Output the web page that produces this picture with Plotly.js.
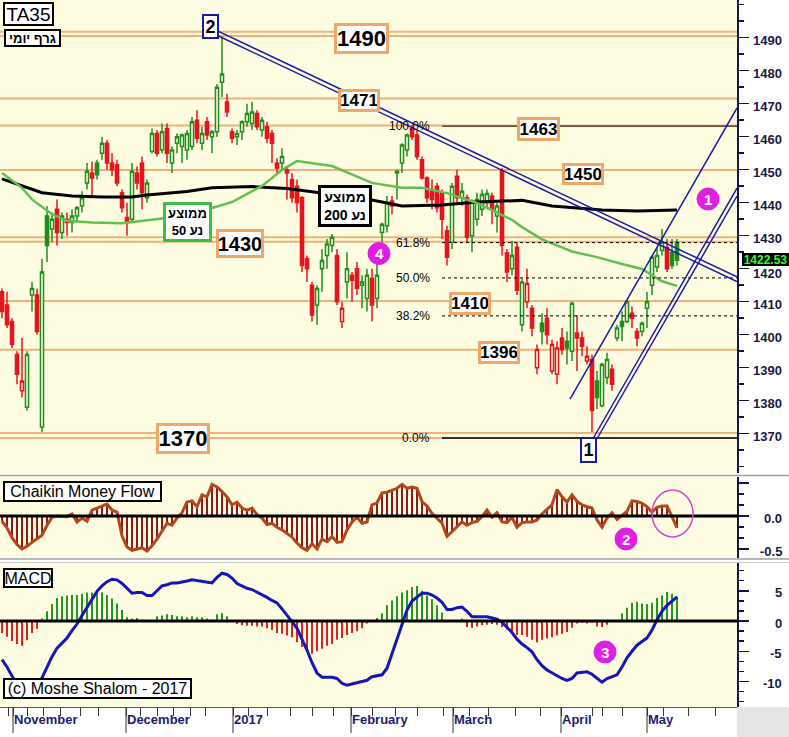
<!DOCTYPE html>
<html><head><meta charset="utf-8">
<script src="https://cdn.plot.ly/plotly-3.0.1.min.js"></script>
<style>html,body{margin:0;padding:0;background:#fff;} #chart{width:789px;height:737px;}</style>
</head><body><div id="chart"></div>
<script>
// ---------- DATA ----------
const openP = [1413,1409,1404,1394,1383,1378,1412,1412,1372,1436,
 1432,1438,1431,1434,1434,1436,1439,1446,1449,1452,
 1455,1458,1452,1451.5,1443,1435.5,1435,1449,1452,1441.5,
 1455.5,1461,1456,1462.5,1452,1458,1457,1456,1457,1465,
 1458,1464.5,1460,1461.5,1476.5,1470.5,1461.5,1460,1461.5,1464.5,
 1464,1467,1462,1463,1461,1452,1452,1450,1447,1445,
 1441.5,1423,1415,1409,1420,1424,1427,1424,1404,1416,
 1418,1420,1415,1411,1417,1411,1431,1433,1440.5,1449,
 1452,1456,1462.5,1460.5,1453,1447.5,1444,1445,1443,1431.5,
 1428,1448,1441.5,1441.5,1430,1435,1438,1440,1442,1436,
 1449.7,1424.8,1420,1426.5,1403,1410,1408,1390,1403.5,1405,
 1389,1388,1399,1398,1395,1400.5,1399,1392,1392.5,1386,
 1378.5,1387,1389.5,1399,1404,1404,1406.5,1401,1401,1408,
 1415,1420.5,1425.5,1426.5,1425,1428];
const highP = [1414,1413,1405,1395,1399,1395,1416,1414,1423,1439,
 1437,1441,1437,1437,1438,1439,1443.5,1452,1452.5,1453,
 1460,1459,1455,1453,1444,1440,1452,1451,1454,1447,
 1462.5,1462,1464,1464,1457,1461,1461,1462,1466,1468,
 1463,1466,1462,1476,1490,1473,1462.5,1462,1465,1470,
 1470.5,1468,1466,1464.5,1462,1453.5,1456.5,1451,1449,1447,
 1442,1424,1416,1415,1426,1429,1430.5,1426,1410,1425,
 1419,1422,1418,1420,1420,1422.5,1434,1442,1442,1450,
 1458,1461,1463.5,1462,1454,1448,1447,1446,1444,1433,
 1446,1450,1446,1442.5,1441,1443,1444,1444,1443,1440,
 1450.5,1426,1428.5,1428,1417,1420,1409,1397,1406.5,1408,
 1398.5,1398,1402,1401,1410,1406,1401,1396.5,1394,1389,
 1391.5,1394.5,1391,1403,1407,1410.5,1408.5,1402,1404,1413,
 1424,1426.5,1432,1429,1429,1429];
const lowP = [1405,1402,1396,1385,1381,1377,1407,1400,1370.5,1422,
 1428,1427,1429,1430,1431,1434,1437,1444,1441.5,1447,
 1453,1450,1448,1445,1437,1430,1434,1444,1438,1440,
 1455,1454,1455,1452,1449,1455,1452,1453,1456,1458,
 1456,1459,1455,1460,1472,1466,1458,1457.5,1459,1463,
 1462,1462,1460,1458,1452,1449,1450,1441,1440,1437,
 1419,1416,1404,1403,1413,1420,1425,1409,1402,1411,
 1410,1412,1408,1407,1404,1408,1428,1431,1436.5,1441,
 1449,1454,1459,1453,1447,1440,1438,1437,1429,1421,
 1426,1440,1439,1428,1425,1433,1436,1438,1433.5,1431,
 1424,1416,1418,1412,1401,1408,1399.5,1388,1397,1397,
 1388,1385,1394,1391,1392,1389,1393.5,1391,1370.5,1377.5,
 1378,1385,1383,1398,1398,1403.5,1402,1396.5,1399.5,1402,
 1412,1419,1424,1419,1420,1421];
const closeP = [1407,1403,1397,1388,1386,1394,1414,1401,1419,1427,
 1435,1431,1436,1435,1436,1438.5,1441.5,1449.5,1447.5,1448.5,
 1458,1452,1450,1446,1438.5,1434,1449.5,1446,1443,1446,
 1461,1455,1461.5,1455,1456,1460,1460.5,1461,1464.5,1459.5,
 1461,1460.5,1461.5,1475,1479,1467.5,1459.5,1461,1464.5,1467,
 1467.5,1463,1465,1459.5,1458,1450.5,1454,1449,1441.5,1440,
 1421,1420,1406,1414,1422.5,1427.5,1429.5,1410,1408,1420,
 1416.5,1414,1416,1418,1409,1418,1433.5,1440,1439,1449.5,
 1457.5,1460.5,1460,1454,1447.5,1441.5,1441,1438.5,1435,1423.5,
 1445,1441.5,1443.5,1429.5,1440.5,1441,1442.5,1442.8,1438,1439,
 1427,1419,1424,1413.5,1416,1415.5,1402,1395.5,1401,1400,
 1397,1396,1395.5,1396,1409.5,1399,1396.5,1393.5,1377,1381,
 1391,1392.5,1385,1402,1402.5,1410,1405,1399,1403.5,1410,
 1423.5,1424,1428,1420,1421,1422.53];

const ma200X = [0,4,8,14,20,26,29,37,42,50,57,62,68,74,80,88,95,104,110,120,127,135];
const ma200Y = [1447.2,1445.1,1443.0,1442.0,1441.7,1441.7,1442.3,1443.4,1444.5,1444.9,1444.3,1443.3,1442.0,1440.8,1439.0,1439.3,1440.2,1440.7,1439.0,1437.8,1437.5,1437.8];
const ma50X = [0,4,6,10,13,18,24,27,32,42,46,52,56,59,66,74,80,84,89,95,102,104,108,114,119,124,128,132,135];
const ma50Y = [1449.0,1444.5,1441.0,1436.5,1434.5,1434.0,1433.8,1434.3,1435.2,1438.4,1440.2,1445.1,1449.9,1452.6,1451.1,1446.0,1444.5,1444.5,1442.9,1439.9,1434.8,1432.6,1428.9,1425.2,1423.5,1421.4,1419.9,1416.2,1414.8];

const cmf = [-0.08,-0.18,-0.33,-0.43,-0.5,-0.46,-0.4,-0.34,-0.29,-0.14,
 -0.02,0.0,0.0,-0.01,0.03,-0.09,-0.03,-0.08,0.09,0.12,
 0.15,0.18,0.09,0.06,-0.3,-0.47,-0.52,-0.5,-0.48,-0.53,
 -0.45,-0.35,-0.22,-0.11,-0.14,-0.03,0.05,0.21,0.23,0.14,
 0.32,0.29,0.48,0.44,0.37,0.29,0.17,0.21,0.12,0.09,
 0.12,0.02,-0.03,-0.13,-0.11,-0.17,-0.21,-0.26,-0.32,-0.41,
 -0.48,-0.52,-0.42,-0.5,-0.35,-0.39,-0.31,-0.4,-0.39,-0.21,
 -0.09,-0.02,-0.11,-0.09,0.17,0.2,0.35,0.36,0.39,0.42,
 0.48,0.42,0.44,0.42,0.22,0.15,0.04,-0.03,-0.11,-0.31,
 -0.24,-0.16,-0.09,-0.14,-0.1,-0.08,-0.01,0.09,-0.02,0.05,
 -0.09,-0.1,-0.02,-0.17,-0.1,-0.09,-0.09,-0.06,0.03,0.1,
 0.17,0.4,0.29,0.21,0.32,0.22,0.17,0.14,0.12,-0.06,
 -0.17,-0.03,0.05,-0.05,0.01,0.07,0.23,0.22,0.19,0.14,
 0.06,0.13,0.15,0.15,-0.01,-0.18];

const macdHist = [-2.0,-2.6,-3.3,-3.8,-4.1,-3.2,-2.0,-1.3,0.4,1.6,
 2.8,3.8,4.1,4.2,4.3,4.3,4.5,4.7,4.7,4.8,
 4.7,4.3,3.7,2.9,1.8,0.6,0.4,0.5,0.2,0.05,
 0.1,0.8,0.9,1.1,1.0,0.8,0.8,0.6,0.8,0.6,
 0.6,0.4,0.2,1.1,1.3,0.8,0.05,-0.5,-0.7,-0.8,
 -0.8,-0.9,-0.9,-1.2,-1.5,-2.0,-2.1,-2.4,-2.7,-3.5,
 -4.3,-5.1,-5.4,-5.0,-4.6,-4.1,-3.8,-3.1,-2.8,-2.3,
 -2.0,-1.7,-1.2,-0.4,-0.1,0.5,1.3,2.6,3.4,4.1,
 4.7,5.1,5.6,5.8,5.0,4.2,3.6,2.6,1.4,-0.2,
 0,0.1,0.4,-1.0,-1.1,-0.9,-0.7,-0.6,-0.5,-0.6,
 -1.0,-1.4,-2.0,-2.3,-2.3,-2.6,-3.1,-3.5,-3.1,-2.9,
 -2.7,-2.4,-2.1,-1.8,-1.1,-0.4,-0.3,-0.4,-0.3,-0.9,
 -1.0,-0.6,0,0,1.3,2.2,3.0,3.2,2.9,2.8,
 3.0,3.8,4.2,4.8,4.5,4.0];

const macdLine = [-6.4,-7.6,-9.1,-10.3,-11.2,-11.7,-11.6,-10.8,-9.4,-7.6,
 -5.9,-4.5,-3.6,-2.8,-1.6,-0.5,0.9,2.3,3.6,4.9,
 5.8,6.5,6.9,6.8,6.2,5.4,4.6,4.7,4.7,4.2,
 4.2,5.0,5.8,6.0,6.3,6.3,6.4,6.6,6.8,6.7,
 6.6,6.5,6.3,7.2,7.9,7.7,7.1,6.2,5.8,5.4,
 5.2,4.8,4.4,3.9,3.4,3.0,2.0,1.0,-0.1,-1.2,
 -3.0,-4.8,-6.9,-8.6,-9.3,-9.3,-9.3,-9.5,-10.3,-10.6,
 -10.4,-10.1,-9.9,-9.8,-9.2,-9.1,-8.9,-7.8,-5.4,-3.0,
 -0.5,1.8,3.3,4.0,4.6,4.6,4.3,3.8,3.1,1.9,
 1.9,2.2,2.3,1.6,0.7,0.7,0.7,0.7,0.5,0.3,
 -0.2,-1.0,-1.9,-3.0,-3.8,-4.4,-5.1,-6.4,-7.4,-8.1,
 -8.6,-9.1,-9.5,-9.8,-9.5,-8.6,-8.5,-8.4,-8.8,-9.5,
 -10.1,-9.5,-9.2,-8.9,-7.6,-6.1,-5.0,-4.0,-3.4,-2.8,
 -1.5,0.2,1.6,2.6,3.3,4.0];

const monthTicks = [2.2,24.8,46.2,69.8,90.2,111.8,129];
const monthNames = ['November','December','2017','February','March','April','May'];
const weekTicks = [1.2,5,8.2,11.6,15.6,19.2,27.6,31,34.2,37.6,40.6,49.2,53,57.6,62,66.2,74,78.6,83,88.2,93.4,97.2,102.6,107.6,118,120,124,132.2,137.2,142.6];

const priceTicks = [1370,1380,1390,1400,1410,1420,1430,1440,1450,1460,1470,1480,1490];
const cmfTicks = [0,-0.5];
const cmfTickText = ['0.0','-0.5'];
const macdTicks = [5,0,-5,-10];

const levelLines = [1491.8,1490.5,1471.6,1463.4,1449.9,1429.5,1428.2,1410.2,1395.4,1370.2,1368.7];
const fibLevels = [1463.2,1427.9,1417.2,1405.7,1368.7];
const fibLabels = ['100.0%','61.8%','50.0%','38.2%','0.0%'];
const fibDashed = [false,true,true,true,false];
const lastPrice = '1422.53';

// trend lines: [x0, y0, x1, y1] in (bar index, price)
const trendLines = [
  [43.2,1492.0,147,1417.5],
  [43.2,1490.6,147,1416.1],
  [113.6,1380.5,147,1468.7],
  [118.4,1369.0,147,1444.4],
  [119.2,1369.0,147,1442.0]
];

// ---------- STYLE ----------
const FONT = 'Liberation Sans, Arial, DejaVu Sans, sans-serif';
const BG = '#FFFDE1';
const GREEN = '#1E8E1E', RED = '#E8141C';
const ORANGE = '#F0B27A', ORANGE_B = '#EFA868';
const NAVY = '#14144A', BLUE = '#1A1AA0', MAGENTA = '#E21EE2';
const PW = 737, PH = 707;
const px = x => x / PW, py = y => 1 - y / PH;

const idx = closeP.map((_, i) => i);
const upList = [], dnList = [];
idx.forEach(i => { if (i > 0 && closeP[i] >= closeP[i-1]) upList.push(i); else dnList.push(i); });

function candle(list, color) {
  return {
    type: 'candlestick', xaxis: 'x', yaxis: 'y',
    x: list, open: list.map(i => openP[i]), high: list.map(i => highP[i]),
    low: list.map(i => lowP[i]), close: list.map(i => closeP[i]),
    increasing: {line: {color: color, width: 1.5}, fillcolor: BG},
    decreasing: {line: {color: color, width: 1.5}, fillcolor: color},
    whiskerwidth: 0, hoverinfo: 'skip', showlegend: false
  };
}

const traces = [
  candle(upList, GREEN),
  candle(dnList, RED),
  {type:'scatter', mode:'lines', x: ma200X, y: ma200Y, xaxis:'x', yaxis:'y', line:{color:'#000', width:3}, hoverinfo:'skip'},
  {type:'scatter', mode:'lines', x: ma50X, y: ma50Y, xaxis:'x', yaxis:'y', line:{color:'#62C050', width:2.5}, hoverinfo:'skip'},
  {type:'bar', x: idx, y: cmf, xaxis:'x', yaxis:'y2', width: 0.4, marker:{color:'#8B1A1A', line:{width:0}}, hoverinfo:'skip'},
  {type:'scatter', mode:'lines', x: idx, y: cmf, xaxis:'x', yaxis:'y2', line:{color:'#B5451B', width:3}, hoverinfo:'skip'},
  {type:'bar', x: idx, y: macdHist, xaxis:'x', yaxis:'y3', width: 0.4,
   marker:{color: macdHist.map(v => v >= 0 ? '#229A22' : '#E02020'), line:{width:0}}, hoverinfo:'skip'},
  {type:'scatter', mode:'lines', x: idx, y: macdLine, xaxis:'x', yaxis:'y3', line:{color:'#1515B8', width:3}, hoverinfo:'skip'}
];

// ---------- SHAPES ----------
const shapes = [];
levelLines.forEach(v => shapes.push({type:'line', xref:'paper', yref:'y', x0:0, x1:1, y0:v, y1:v, line:{color:ORANGE, width:2}, layer:'below'}));
fibLevels.forEach((v, k) => shapes.push({type:'line', xref:'paper', yref:'y', x0:px(442), x1:1, y0:v, y1:v,
  line:{color:'#000', width: k === 4 ? 1.5 : 1, dash: fibDashed[k] ? '3px,3px' : 'solid'}}));
trendLines.forEach(t => shapes.push({type:'line', xref:'x', yref:'y', x0:t[0], y0:t[1], x1:t[2], y1:t[3], line:{color:BLUE, width:1.5}}));
// zero lines
shapes.push({type:'line', xref:'paper', yref:'y2', x0:0, x1:1, y0:0, y1:0, line:{color:'#000', width:3}});
shapes.push({type:'line', xref:'paper', yref:'y3', x0:0, x1:1, y0:0, y1:0, line:{color:'#000', width:3}});
// panel separators
shapes.push({type:'line', xref:'paper', yref:'paper', x0:0, x1:789/PW, y0:py(475.5), y1:py(475.5), line:{color:'#A0A0A0', width:1.5}});
shapes.push({type:'line', xref:'paper', yref:'paper', x0:0, x1:789/PW, y0:py(559), y1:py(559), line:{color:'#A0A0A0', width:1.5}});
shapes.push({type:'line', xref:'paper', yref:'paper', x0:0, x1:789/PW, y0:py(562.5), y1:py(562.5), line:{color:'#C8C8C8', width:1}});
// long month ticks
monthTicks.forEach(v => shapes.push({type:'line', xref:'x', yref:'paper', x0:v, x1:v, y0:0, y1:-26/PH, line:{color:'#333', width:1}}));
// gray corner
shapes.push({type:'rect', xref:'paper', yref:'paper', x0:1, x1:789/PW, y0:-30/PH, y1:0, fillcolor:'#E6E6E6', line:{width:0}});
// magenta marker circles
const circ = [[708,199,'1'],[379,253.5,'4'],[626,539,'2'],[605,652,'3']];
circ.forEach(c => shapes.push({type:'circle', xref:'paper', yref:'paper', x0:px(c[0]-11), x1:px(c[0]+11), y0:py(c[1]+11), y1:py(c[1]-11), fillcolor:MAGENTA, line:{color:MAGENTA, width:1}}));
// hollow ellipse in CMF
shapes.push({type:'circle', xref:'paper', yref:'paper', x0:px(652), x1:px(693), y0:py(537), y1:py(490), line:{color:'#D048D0', width:1.5}});

// ---------- ANNOTATIONS ----------
const ann = [];
function box(text, cx, cy, w, h, size, bold, border, bw, extra) {
  ann.push(Object.assign({xref:'paper', yref:'paper', x:px(cx), y:py(cy), xanchor:'center', yanchor:'middle',
    text: bold ? '<b>' + text + '</b>' : text, showarrow:false, font:{family:FONT, size:size, color:'#000'},
    bgcolor:'#FFFFFF', bordercolor:border, borderwidth:bw, borderpad:0, width:w - 2*bw, height:h - 2*bw, align:'center'}, extra || {}));
}
box('TA35', 28.5, 14.5, 51, 24, 19, false, '#000', 2);
box('גרף יומי', 32.5, 38, 57, 18, 13, true, '#000', 2);
box('1490', 361.5, 38.5, 55, 31, 22, true, ORANGE_B, 3);
box('1471', 359, 100.5, 42, 23, 17, true, ORANGE_B, 3);
box('1463', 538, 129, 43, 24, 17, true, ORANGE_B, 3);
box('1450', 583, 174, 42, 22, 17, true, ORANGE_B, 3);
box('1430', 240, 243.5, 48, 29, 20, true, ORANGE_B, 3);
box('1410', 470, 303.5, 42, 23, 17, true, ORANGE_B, 3);
box('1396', 499, 352.5, 42, 23, 17, true, ORANGE_B, 3);
box('1370', 183, 438.5, 54, 31, 22, true, ORANGE_B, 3);
box('ממוצע<br>\u202Bנע 50\u202C', 187.5, 222, 49, 40, 13, true, '#3DBE4A', 3);
box('ממוצע<br>\u202Bנע 200\u202C', 345, 206, 54, 42, 14, true, '#000', 3);
box('2', 211, 26.5, 17, 25, 18, true, BLUE, 2);
box('1', 588.5, 450, 17, 26, 18, true, BLUE, 2);
box('Chaikin Money Flow', 82.5, 491, 159, 21, 16, false, '#000', 2);
box('MACD', 28, 577.5, 50, 20, 16, false, '#000', 2);
box('(c) Moshe Shalom - 2017', 97.5, 688, 189, 21, 16, false, '#000', 2);
box(lastPrice, 765, 259, 47, 13, 12, true, '#000', 0, {bgcolor:'#000000', font:{family:FONT, size:12, color:'#2BFF2B'}});

circ.forEach(c => ann.push({xref:'paper', yref:'paper', x:px(c[0]), y:py(c[1]), xanchor:'center', yanchor:'middle', showarrow:false,
  text:'<b>' + c[2] + '</b>', font:{family:FONT, size:15, color:'#FFFFFF'}}));

fibLevels.forEach((v, k) => ann.push({xref:'paper', yref:'y', x:px(432), y:v, xanchor:'right', yanchor:'middle', showarrow:false,
  text: fibLabels[k], font:{family:FONT, size:12, color:'#000'}}));

const tickFont = {family:FONT, size:13, color:'#1A1A40', weight:'bold'};
priceTicks.forEach(v => ann.push({xref:'paper', yref:'y', x:784/PW, y:v, xanchor:'right', yanchor:'middle', yshift: v === 1420 ? -5 : -2.5, showarrow:false, text:String(v), font:tickFont}));
cmfTicks.forEach((v, k) => ann.push({xref:'paper', yref:'y2', x:784/PW, y:v, xanchor:'right', yanchor:'middle', yshift:-2, showarrow:false, text:cmfTickText[k], font:tickFont}));
macdTicks.forEach(v => ann.push({xref:'paper', yref:'y3', x:784/PW, y:v, xanchor:'right', yanchor:'middle', yshift:-2, showarrow:false, text:String(v), font:tickFont}));

// ---------- LAYOUT ----------
const yCommon = {side:'right', anchor:'x', showgrid:false, zeroline:false, showticklabels:false, ticks:'outside',
  ticklen:10, tickwidth:1.5, tickcolor:NAVY, showline:true, linecolor:NAVY, linewidth:1.5};
const layout = {
  width:789, height:737, margin:{l:0, r:52, t:0, b:30, pad:0},
  paper_bgcolor:'#FFFFFF', plot_bgcolor:BG, showlegend:false, font:{family:FONT}, boxgap:0.12,
  xaxis:{domain:[0,1], range:[-0.4,147], anchor:'y3', showgrid:false, zeroline:false,
    tickmode:'array', tickvals:monthTicks, ticktext:monthNames, ticks:'outside', ticklen:8, tickcolor:'#333',
    ticklabelposition:'outside right', tickfont:{family:FONT, size:13, color:'#1C1C6C', weight:'bold'},
    showline:true, linecolor:'#555', linewidth:1,
    minor:{tickmode:'array', tickvals:weekTicks, ticks:'outside', ticklen:8, tickcolor:'#333'},
    rangeslider:{visible:false}},
  yaxis:Object.assign({}, yCommon, {domain:[1-473/PH, 1], range:[1358.09,1501.42], tickmode:'array', tickvals:priceTicks,
    minor:{dtick:5, tick0:0, ticks:'outside', ticklen:5, tickcolor:NAVY}}),
  yaxis2:Object.assign({}, yCommon, {domain:[1-558/PH, 1-477/PH], range:[-0.6364,0.5909], tickmode:'array', tickvals:[0.5,0,-0.5],
    minor:{dtick:1/6, tick0:0, ticks:'outside', ticklen:5, tickcolor:NAVY}}),
  yaxis3:Object.assign({}, yCommon, {domain:[0, 1-563/PH], range:[-14.215,9.587], tickmode:'array', tickvals:macdTicks,
    minor:{dtick:5/3, tick0:0, ticks:'outside', ticklen:5, tickcolor:NAVY}}),
  shapes:shapes, annotations:ann
};

Plotly.newPlot('chart', traces, layout, {staticPlot:true, displayModeBar:false});
</script>
</body></html>
